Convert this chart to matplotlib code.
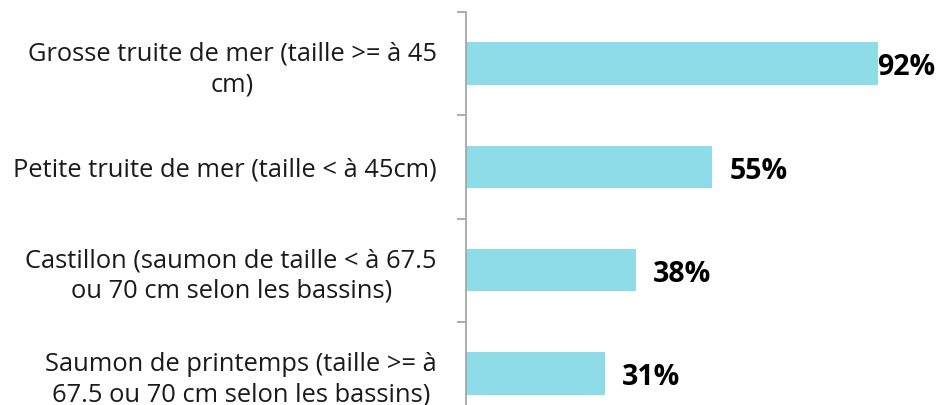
import matplotlib
matplotlib.use("Agg")
import matplotlib.pyplot as plt

categories = [
    "Grosse truite de mer (taille >= à 45\ncm)",
    "Petite truite de mer (taille < à 45cm)",
    "Castillon (saumon de taille < à 67.5\nou 70 cm selon les bassins)",
    "Saumon de printemps (taille >= à\n67.5 ou 70 cm selon les bassins)",
]
values = [92, 55, 38, 31]
value_labels = ["92%", "55%", "38%", "31%"]

W, H = 939, 405
fig = plt.figure(figsize=(W / 100, H / 100), dpi=100)
left_px, top_px, pitch = 466, 12, 103.3
n = len(categories)
bottom_px = top_px + pitch * n
xmax = 100
px_per_unit = 4.478
ax = fig.add_axes([left_px / W, 1 - bottom_px / H, xmax * px_per_unit / W, (bottom_px - top_px) / H])

ypos = list(range(n))
ax.barh(ypos, values, height=0.41, color="#8FDCE9", zorder=2)
ax.set_xlim(0, xmax)
ax.set_ylim(n - 0.5, -0.5)

for s in ["top", "right", "bottom"]:
    ax.spines[s].set_visible(False)
ax.spines["left"].set_color("#A6A6A6")
ax.spines["left"].set_linewidth(1.3)
ax.set_xticks([])

ax.set_yticks([i - 0.5 for i in range(n + 1)])
ax.set_yticklabels([])
ax.tick_params(axis="y", which="major", length=6.5, width=1.3, color="#A6A6A6")
ax.set_yticks(ypos, categories, minor=True)
ax.tick_params(axis="y", which="minor", length=0, pad=21)
for t in ax.get_yticklabels(minor=True):
    t.set_fontfamily("Open Sans")
    t.set_fontsize(18.4)
    t.set_color("#1a1a1a")
    t.set_multialignment("center")
    t.set_linespacing(1.3)

for i, (v, lab) in enumerate(zip(values, value_labels)):
    end_px = left_px + v * px_per_unit
    x_px = min(end_px + 17, W - 62)
    off = (x_px - end_px) * 0.72
    ax.annotate(lab, xy=(v, i), xytext=(off, -3), textcoords="offset points",
                ha="left", va="center", fontsize=20.5, fontweight="bold",
                fontfamily="Open Sans", color="black", annotation_clip=False)

fig.savefig("out.png", dpi=100)
